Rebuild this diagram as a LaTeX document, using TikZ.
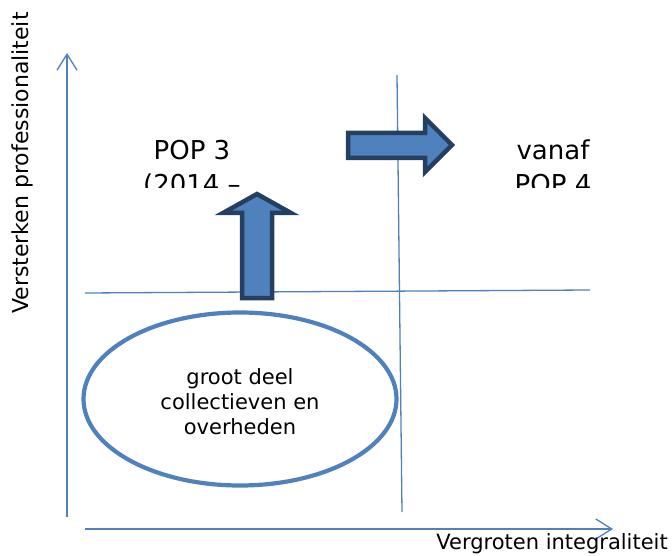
\documentclass[tikz,border=0pt]{standalone}
\usepackage{fontspec}
\setmainfont{DejaVu Sans}
\usetikzlibrary{arrows.meta,shapes.geometric}
\definecolor{lijn}{RGB}{79,129,189}
\definecolor{rand}{RGB}{36,63,96}
\tikzset{
  as/.style={draw=lijn,line width=1.3pt,-{Straight Barb[length=16pt,width=20pt,line width=1.3pt]}},
  kruis/.style={draw=lijn,line width=1.3pt},
  blokpijl/.style={fill=lijn,draw=rand,line width=4.5pt,line join=miter},
  tekst/.style={inner sep=0pt,align=center}
}
\begin{document}
\begin{tikzpicture}[x=1pt,y=-1pt]
\useasboundingbox(0,0)rectangle(672,556);
\def\ax{67}
\def\ay{529}
% assen
\draw[as](\ax,517)--(\ax,53);
\draw[as](85,\ay)--(613,\ay);
\node[tekst,rotate=90,font=\fontsize{22}{26}\selectfont](yas)at(22,163){Versterken professionaliteit};
\node[tekst,anchor=base east,font=\fontsize{21}{25}\selectfont](xas)at(668,549){Vergroten integraliteit};
% kwadranten
\draw[kruis](397,75)--(402,512);
\draw[kruis](85,293)--(590,290);
% ellips
\node[draw=lijn,line width=4.2pt,ellipse,minimum width=313pt,minimum height=173pt](groep)at(240,399){};
\node[tekst,font=\fontsize{21}{25}\selectfont](groeptekst)at(240,402){groot deel\\collectieven en\\overheden};
% afgesneden tekstvakken
\begin{scope}
\clip(100,100)rectangle(300,188);
\node[tekst,anchor=north,font=\fontsize{26}{34}\selectfont](pop3)at(192,140){POP 3\\(2014 --};
\end{scope}
\begin{scope}
\clip(460,100)rectangle(660,188);
\node[tekst,anchor=north,font=\fontsize{26}{34}\selectfont](pop4)at(553,140){vanaf\\POP 4};
\end{scope}
% blokpijlen
\draw[blokpijl](242,298)--(242,213)--(223,213)--(257,194)--(291,213)--(272,213)--(272,298)--cycle;
\draw[blokpijl](348,133)--(425,133)--(425,118)--(452,145)--(425,172)--(425,158)--(348,158)--cycle;
\end{tikzpicture}
\end{document}
